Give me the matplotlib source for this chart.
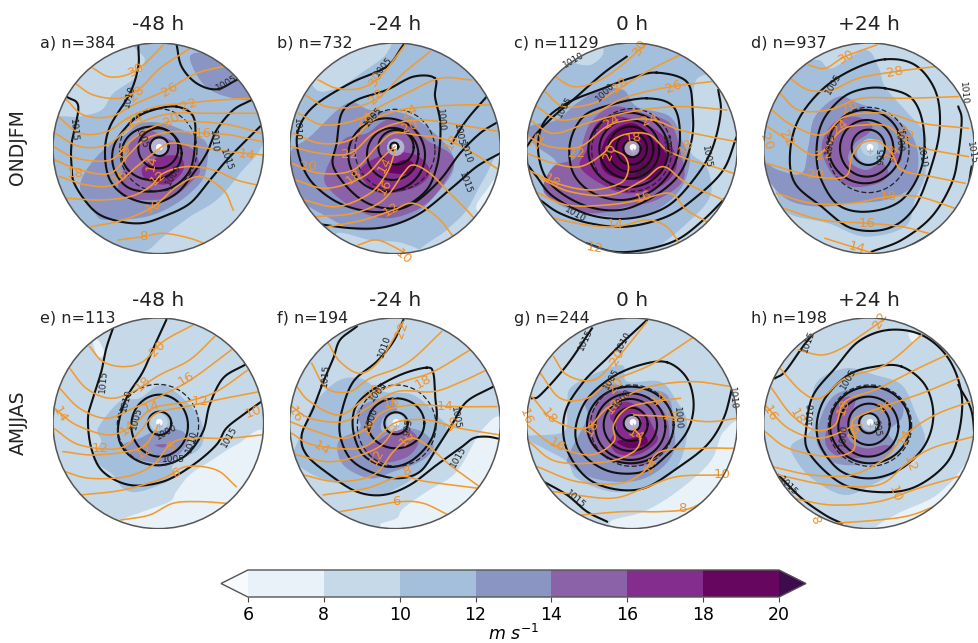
import matplotlib
matplotlib.use('Agg')
import matplotlib.pyplot as plt
import matplotlib as mpl
import numpy as np
from matplotlib.patches import Circle
from matplotlib.colors import ListedColormap, BoundaryNorm

# colour levels, m/s
levels = [6, 8, 10, 12, 14, 16, 18, 20]
level_colors = ['#e9f2f8', '#c6d9e9', '#a3bfdc', '#8b95c3', '#8b62a8', '#842d8f', '#67065f']
under_color = '#f7fbfd'
over_color = '#3f0b4f'
titles = ['-48 h', '-24 h', '0 h', '+24 h']
tags = ['a) n=384', 'b) n=732', 'c) n=1129', 'd) n=937', 'e) n=113', 'f) n=194', 'g) n=244', 'h) n=198']
seasons = ['ONDJFM', 'AMJJAS']

# everything below, x/y in the panel's own units (y down)
# circle centres of each panel
centre_x = [385, 375, 366, 372, 386, 375, 365, 372]

# ---- a
base_a = 8
wind_a = [
    (10, [(335, 90), (345, 150), (320, 200), (250, 250), (215, 300), (150, 320), (60, 340), (60, 540), (120, 650), (250, 700), (340, 725), (400, 680), (480, 620), (560, 570), (630, 490), (710, 370), (720, 90)]),
    (12, [(150, 530), (200, 440), (290, 370), (330, 340), (400, 340), (480, 370), (530, 400), (530, 470), (510, 520), (440, 580), (350, 620), (230, 630), (195, 610)]),
    (12, [(480, 140), (530, 130), (600, 170), (660, 260), (640, 270), (560, 250), (510, 210)]),
    (14, [(265, 520), (285, 470), (300, 400), (350, 360), (420, 390), (490, 420), (510, 480), (490, 510), (430, 560), (350, 570), (280, 560)]),
    (16, [(340, 470), (390, 440), (450, 440), (460, 480), (420, 520), (370, 520), (340, 500)]),
]
black_a = [
    [(440, 105), (455, 170), (500, 220), (560, 238), (620, 210)],
    [(110, 260), (145, 290), (125, 400), (125, 470), (135, 525), (190, 600), (250, 630), (330, 640), (400, 620), (480, 580), (540, 510), (600, 440), (690, 350)],
    [(325, 105), (325, 170), (300, 250), (240, 350), (225, 430), (240, 510), (290, 560), (370, 580), (440, 550), (490, 490), (530, 430), (560, 360), (610, 300), (665, 270)],
]
closed_a = [[(440, 290), (490, 320), (495, 400), (480, 480), (430, 530), (360, 545), (290, 530), (250, 470), (255, 400), (310, 330), (370, 300)]]
rings_a = [(365, 430, 90, 80), (385, 415, 60, 60), (388, 410, 28, 28)]
dash_a = (385, 420, 116, 124)
orange_a = [
    [(190, 175), (235, 200), (290, 195), (340, 165), (400, 105)],
    [(135, 220), (190, 255), (270, 265), (330, 235), (390, 175), (480, 115)],
    [(110, 270), (160, 315), (240, 320), (320, 280), (410, 240), (500, 190), (600, 165)],
    [(85, 320), (150, 370), (230, 365), (300, 320), (380, 290), (470, 280), (570, 270), (665, 265)],
    [(75, 370), (150, 410), (230, 405), (290, 360), (350, 330), (430, 310), (540, 310), (690, 310)],
    [(70, 410), (140, 445), (240, 450), (300, 395), (350, 360), (420, 335), (500, 335), (600, 345), (695, 370)],
    [(75, 450), (150, 480), (240, 490), (300, 430), (350, 385), (430, 365), (520, 370), (600, 375), (695, 395)],
    [(90, 500), (170, 525), (250, 525), (320, 470), (370, 430), (420, 400), (500, 410), (600, 425), (700, 435)],
    [(110, 565), (210, 570), (300, 560), (360, 530), (400, 490), (470, 470), (550, 480), (620, 510), (680, 525)],
    [(185, 650), (280, 630), (370, 590), (440, 530), (510, 500), (580, 540), (610, 600)],
    [(265, 690), (340, 680), (400, 670), (480, 685), (545, 710)],
]
olabel_a = [('30', 320, 180, 30), ('28', 320, 250, 45), ('26', 420, 240, 30), ('22', 475, 285, 20), ('20', 425, 330, 30), ('24', 315, 330, 30),
            ('16', 520, 370, 0), ('14', 650, 435, -10), ('10', 370, 590, 30), ('8', 340, 680, 0), ('18', 135, 490, 0), ('16', 270, 500, 40),
            ('18', 280, 425, 60), ('12', 385, 505, 40), ('14', 365, 460, 80)]
blabel_a = [('1010', 300, 260, 75), ('1015', 130, 360, -85), ('1005', 590, 220, 30), ('1010', 550, 395, -85), ('1015', 590, 450, -70), ('1000', 430, 495, 60), ('1005', 335, 385, -70)]

# ---- b
base_b = 10
wind_b = [
    (8, [(130, 230), (200, 235), (280, 185), (350, 130), (340, 80), (100, 80)]),
    (8, [(700, 430), (640, 510), (590, 600), (530, 660), (450, 735), (700, 740)]),
    (8, [(200, 670), (300, 690), (400, 700), (460, 740), (200, 740)]),
    (6, [(700, 490), (650, 540), (620, 600), (700, 640)]),
    (12, [(65, 420), (120, 380), (230, 280), (300, 300), (400, 310), (470, 350), (540, 420), (550, 480), (510, 540), (440, 610), (350, 650), (260, 660), (170, 620), (80, 560), (60, 480)]),
    (14, [(165, 490), (220, 390), (290, 370), (350, 330), (420, 340), (470, 390), (540, 430), (550, 470), (500, 550), (440, 600), (350, 625), (260, 600), (180, 540)]),
    (16, [(270, 480), (350, 430), (420, 430), (460, 450), (480, 490), (440, 530), (360, 550), (310, 540)]),
    (18, [(350, 480), (400, 450), (430, 460), (420, 490), (370, 490)]),
]
black_b = [
    [(400, 105), (350, 170), (240, 220), (130, 290), (85, 360), (85, 430), (120, 510), (190, 570), (270, 600), (350, 605), (430, 580), (510, 510), (570, 430), (630, 370), (685, 335)],
    [(650, 260), (590, 330), (545, 400)],
    [(130, 640), (250, 655), (350, 650), (450, 610), (550, 530), (620, 470), (690, 430)],
]
closed_b = [[(495, 205), (430, 200), (350, 240), (260, 270), (215, 310), (200, 400), (190, 470), (250, 550), (320, 590), (400, 590), (470, 540), (500, 470), (510, 400), (510, 330), (495, 260)]]
rings_b = [(350, 435, 115, 110), (368, 432, 77, 78), (378, 412, 53, 52), (373, 410, 12, 12)]
dash_b = (375, 420, 120, 122)
orange_b = [
    [(145, 210), (200, 235), (270, 235), (330, 200), (405, 105)],
    [(105, 255), (170, 290), (260, 290), (330, 260), (400, 190), (480, 125)],
    [(85, 310), (160, 345), (260, 330), (330, 290), (410, 250), (510, 205), (605, 210)],
    [(70, 370), (150, 400), (240, 390), (310, 330), (390, 300), (480, 290), (570, 285), (660, 285)],
    [(65, 410), (150, 430), (240, 430), (310, 370), (380, 340), (460, 330), (570, 345), (690, 365)],
    [(65, 460), (150, 490), (250, 480), (320, 410), (370, 370), (440, 375), (530, 390), (610, 430), (680, 475)],
    [(75, 510), (170, 535), (280, 500), (340, 440), (375, 410)],
    [(100, 570), (200, 590), (300, 550), (350, 490), (370, 440), (375, 420)],
    [(135, 620), (250, 610), (340, 570), (400, 490), (430, 465), (480, 490), (530, 540), (590, 600), (625, 640)],
    [(175, 650), (280, 630), (370, 600), (430, 580), (500, 620), (550, 680)],
    [(265, 705), (320, 690), (380, 715), (420, 740)],
]
olabel_b = [('30', 320, 205, 60), ('28', 320, 260, 45), ('24', 420, 305, 30), ('26', 285, 330, 30), ('20', 420, 350, 20), ('18', 545, 395, 60),
            ('20', 115, 470, 0), ('18', 250, 500, 40), ('12', 365, 600, 30), ('10', 400, 740, -40), ('22', 240, 435, 0), ('14', 345, 465, 60), ('16', 345, 530, 60)]
blabel_b = [('1010', 80, 360, -90), ('1005', 340, 170, 50), ('1000', 510, 330, -85), ('1005', 565, 375, -80), ('1010', 585, 430, -70), ('1015', 585, 520, -70), ('1005', 310, 320, 50)]

# ---- c
base_c = 10
wind_c = [
    (8, [(570, 200), (640, 200), (720, 300), (700, 500), (600, 680), (480, 730), (400, 750), (520, 650), (600, 560), (590, 470), (540, 420), (550, 300), (550, 240)]),
    (8, [(190, 150), (240, 165), (280, 130), (260, 90)]),
    (12, [(60, 350), (140, 330), (200, 280), (270, 240), (340, 240), (380, 290), (480, 320), (520, 400), (540, 450), (510, 540), (420, 610), (300, 620), (160, 590), (100, 530), (140, 460), (70, 400)]),
    (14, [(100, 540), (130, 470), (200, 440), (240, 340), (310, 290), (400, 310), (480, 340), (510, 420), (520, 510), (440, 570), (350, 590), (250, 610), (150, 580)]),
    (16, [(210, 470), (230, 420), (260, 340), (330, 320), (420, 350), (480, 400), (500, 470), (450, 530), (350, 550), (270, 520)]),
    (18, [(270, 440), (300, 370), (370, 340), (430, 390), (470, 440), (440, 500), (360, 510), (290, 490)]),
]
black_c = [
    [(350, 140), (280, 190), (200, 260), (130, 320), (80, 370), (50, 410)],
    [(90, 570), (150, 610), (240, 640), (350, 650), (470, 620), (560, 560), (640, 480), (680, 380)],
    [(230, 700), (310, 725), (400, 720), (500, 690), (580, 630), (650, 560)],
    [(625, 240), (632, 310), (605, 420), (550, 510), (470, 590), (360, 625), (240, 615), (130, 560), (80, 500), (50, 460)],
]
closed_c = [
    [(440, 188), (530, 215), (548, 300), (545, 390), (510, 490), (430, 560), (330, 600), (220, 585), (120, 520), (85, 430), (100, 340), (170, 280), (280, 235), (360, 205)],
    [(410, 265), (490, 290), (510, 380), (490, 470), (430, 540), (340, 570), (250, 550), (190, 490), (180, 400), (220, 320), (300, 285)],
]
rings_c = [(355, 420, 120, 112), (358, 418, 90, 88), (362, 418, 68, 68), (365, 416, 46, 48), (366, 416, 26, 26)]
dash_c = (365, 420, 120, 124)
orange_c = [
    [(135, 200), (190, 230), (260, 215), (330, 170), (410, 100)],
    [(105, 245), (160, 290), (250, 280), (320, 240), (420, 180), (510, 135)],
    [(80, 290), (150, 330), (250, 310), (340, 265), (430, 240), (520, 225), (605, 215)],
    [(60, 330), (130, 370), (230, 340), (340, 310), (430, 295), (530, 290), (650, 300)],
    [(55, 380), (120, 410), (210, 410), (290, 350), (360, 330), (430, 330), (510, 360), (600, 380), (680, 395)],
    [(50, 430), (130, 460), (210, 470), (280, 430), (310, 390), (360, 370), (420, 375), (470, 420), (540, 450), (610, 470), (670, 490)],
    [(55, 480), (140, 520), (240, 540), (330, 520), (355, 480), (345, 440), (310, 420)],
    [(90, 505), (180, 545), (300, 555), (400, 510), (460, 470), (530, 520), (640, 570)],
    [(75, 545), (170, 585), (290, 585), (390, 570), (480, 550), (530, 600), (600, 640)],
    [(130, 625), (230, 645), (320, 650), (410, 630), (470, 650), (505, 695)],
    [(225, 705), (260, 715), (290, 725)],
]
olabel_c = [('30', 390, 110, 60), ('28', 330, 225, 40), ('26', 490, 230, 20), ('24', 305, 335, 30), ('24', 420, 330, 20), ('22', 85, 390, 60), ('22', 200, 430, 0),
            ('20', 300, 425, 70), ('18', 370, 385, 10), ('18', 125, 515, -30), ('16', 400, 560, 20), ('14', 315, 645, 0), ('12', 255, 715, -10), ('18', 530, 410, 50)]
blabel_c = [('1010', 190, 150, 30), ('1005', 165, 290, 60), ('1000', 285, 245, 45), ('1010', 195, 615, -30), ('1005', 590, 440, -80), ('1000', 465, 410, -85), ('995', 400, 480, 60)]

# ---- d
base_d = 8
wind_d = [
    (10, [(220, 150), (260, 175), (360, 120), (400, 170), (420, 230), (480, 300), (540, 370), (540, 430), (540, 500), (510, 570), (480, 650), (360, 680), (250, 640), (130, 610), (90, 540), (50, 440), (50, 370), (100, 230), (150, 170)]),
    (12, [(60, 460), (100, 480), (170, 490), (190, 410), (210, 320), (280, 260), (340, 280), (420, 310), (490, 360), (520, 440), (500, 530), (420, 570), (320, 580), (220, 590), (130, 570), (70, 510)]),
    (14, [(230, 410), (265, 340), (330, 320), (380, 345), (370, 370), (330, 400), (310, 450), (360, 480), (410, 460), (430, 490), (400, 520), (320, 530), (260, 490)]),
    (14, [(440, 420), (470, 440), (460, 460), (435, 450)]),
    (10, [(335, 430), (360, 395), (400, 390), (425, 415), (400, 450), (360, 460)]),
]
black_d = [
    [(640, 290), (650, 330), (640, 430), (620, 520), (560, 620), (470, 690), (380, 725)],
    [(680, 470), (660, 560), (600, 640), (500, 705), (430, 730)],
]
closed_d = [
    [(420, 148), (510, 165), (570, 240), (585, 340), (565, 450), (510, 590), (430, 655), (320, 655), (230, 590), (150, 520), (135, 430), (160, 330), (230, 240), (320, 180)],
    [(420, 235), (500, 265), (535, 350), (530, 470), (470, 570), (370, 605), (280, 585), (225, 500), (215, 410), (235, 330), (290, 265), (350, 238)],
]
rings_d = [(360, 410, 110, 110), (365, 415, 80, 85), (370, 412, 50, 53)]
dash_d = (370, 420, 122, 128)
orange_d = [
    [(190, 165), (240, 175), (300, 140), (395, 105)],
    [(135, 205), (190, 240), (260, 240), (340, 205), (450, 185), (570, 170)],
    [(105, 250), (160, 300), (250, 300), (350, 265), (480, 265), (640, 260)],
    [(80, 300), (140, 345), (230, 375), (300, 320), (420, 310), (530, 340), (670, 355)],
    [(60, 345), (130, 390), (215, 435), (290, 360), (360, 345), (430, 350), (490, 400), (560, 420), (670, 440)],
    [(65, 460), (130, 480), (210, 500), (280, 505), (310, 490), (320, 440), (350, 400), (400, 395), (440, 430), (470, 480), (560, 500), (660, 520)],
    [(95, 550), (200, 580), (320, 580), (430, 560), (520, 560), (630, 595)],
    [(100, 590), (230, 630), (370, 640), (470, 650), (550, 670)],
    [(240, 685), (320, 710), (385, 730)],
]
olabel_d = [('30', 305, 140, 30), ('28', 450, 185, 10), ('26', 315, 290, 30), ('24', 285, 350, 40), ('22', 235, 435, 10), ('22', 125, 385, -60), ('20', 65, 395, -70),
            ('20', 210, 495, 0), ('22', 480, 370, -40), ('18', 440, 425, 60), ('18', 430, 560, 0), ('16', 365, 640, 0), ('14', 335, 715, -15)]
blabel_d = [('1005', 265, 220, 60), ('1010', 655, 250, -85), ('1015', 680, 430, -80), ('1010', 530, 440, -80), ('1000', 460, 395, -85), ('1005', 255, 400, 80), ('995', 410, 440, 85)]

# ---- e
base_e = 8
wind_e = [
    (6, [(710, 450), (620, 480), (540, 530), (480, 570), (440, 620), (420, 650), (340, 680), (270, 710), (300, 745), (710, 745)]),
    (6, [(190, 170), (205, 165), (225, 205), (205, 215)]),
    (10, [(205, 430), (270, 350), (330, 340), (400, 300), (490, 370), (520, 430), (510, 490), (430, 540), (430, 580), (330, 620), (280, 610), (250, 570), (190, 520), (215, 470)]),
    (12, [(280, 480), (330, 460), (370, 440), (400, 430), (460, 440), (470, 480), (420, 530), (350, 530), (300, 510)]),
    (14, [(375, 480), (410, 478), (400, 488)]),
]
black_e = [
    [(250, 130), (230, 190), (215, 260), (190, 340), (175, 400), (185, 490), (220, 560), (300, 600), (400, 590), (490, 540), (560, 480), (590, 430), (640, 390), (695, 350)],
    [(410, 105), (380, 170), (340, 260), (290, 340), (265, 430), (280, 490), (330, 530), (400, 540), (470, 510), (520, 440), (540, 360), (580, 280), (645, 240)],
]
closed_e = []
rings_e = [(390, 422, 85, 93), (390, 415, 35, 35)]
dash_e = (385, 420, 122, 122)
orange_e = [
    [(180, 185), (220, 230), (280, 245), (340, 230), (400, 170), (490, 120)],
    [(120, 250), (170, 310), (240, 340), (310, 320), (390, 270), (480, 225), (555, 155)],
    [(90, 310), (150, 370), (230, 400), (310, 370), (400, 330), (490, 280), (605, 195)],
    [(75, 370), (140, 420), (240, 450), (310, 420), (370, 370), (470, 350), (560, 320), (655, 255)],
    [(72, 430), (150, 480), (270, 490), (330, 440), (380, 385), (470, 365), (560, 345), (690, 320)],
    [(100, 500), (200, 510), (330, 490), (375, 440), (385, 420)],
    [(105, 560), (180, 580), (290, 575), (370, 540), (420, 480), (470, 460), (590, 460), (695, 450)],
    [(155, 630), (280, 615), (400, 580), (470, 545), (560, 555), (620, 605)],
    [(275, 705), (360, 690), (430, 655), (510, 650), (590, 655)],
]
olabel_e = [('20', 385, 190, 45), ('18', 340, 295, 45), ('16', 470, 280, 30), ('14', 365, 365, 20), ('12', 510, 350, 0), ('10', 670, 380, 20), ('14', 90, 390, -60),
            ('14', 295, 430, 40), ('12', 210, 490, 0), ('12', 345, 500, 30), ('8', 425, 485, 30), ('6', 440, 565, 20)]
blabel_e = [('1015', 220, 290, 85), ('1010', 290, 345, 75), ('1005', 320, 400, 75), ('1015', 600, 455, 60), ('1010', 485, 470, 75), ('1000', 410, 440, 30), ('1005', 430, 525, 0)]

# ---- f
base_f = 8
wind_f = [
    (6, [(700, 420), (640, 430), (560, 560), (470, 620), (400, 670), (380, 700), (330, 720), (400, 745), (700, 745)]),
    (10, [(100, 430), (130, 360), (200, 290), (270, 280), (340, 320), (430, 330), (500, 390), (530, 430), (500, 500), (440, 570), (380, 610), (320, 630), (220, 600), (130, 570), (60, 520), (70, 500)]),
    (12, [(205, 470), (270, 430), (260, 380), (300, 350), (360, 340), (380, 380), (340, 400), (340, 440), (420, 430), (470, 450), (490, 490), (450, 530), (370, 560), (300, 580), (220, 540)]),
    (14, [(280, 490), (320, 470), (370, 440), (420, 435), (445, 470), (420, 510), (370, 530), (320, 530)]),
]
black_f = [
    [(260, 125), (210, 165), (190, 220), (160, 290), (130, 370), (95, 450), (110, 510), (180, 570), (260, 620), (340, 630), (420, 600), (500, 540), (570, 490), (610, 460), (650, 455), (690, 462)],
    [(400, 105), (370, 170), (320, 230), (250, 290), (215, 380), (210, 450), (240, 520), (300, 560), (380, 580), (450, 560), (500, 490), (545, 420), (590, 350), (670, 305)],
]
closed_f = [[(470, 248), (490, 265), (495, 330), (500, 400), (480, 470), (420, 530), (350, 545), (280, 510), (250, 440), (255, 370), (300, 320), (390, 270)]]
rings_f = [(378, 415, 85, 75), (378, 415, 35, 33)]
dash_f = (380, 422, 118, 122)
orange_f = [
    [(175, 175), (210, 230), (270, 265), (330, 225), (400, 110)],
    [(125, 235), (170, 310), (240, 320), (300, 280), (410, 235), (515, 140)],
    [(80, 305), (120, 350), (210, 390), (300, 330), (400, 290), (490, 260), (600, 195)],
    [(60, 360), (120, 400), (220, 410), (290, 370), (380, 320), (490, 320), (575, 290), (660, 250)],
    [(60, 410), (140, 440), (220, 460), (290, 430), (340, 380), (430, 360), (550, 365), (680, 365)],
    [(65, 445), (130, 480), (270, 490), (340, 440), (385, 410), (470, 405), (570, 430), (690, 450)],
    [(80, 510), (190, 530), (320, 490), (375, 430)],
    [(100, 570), (200, 590), (310, 570), (370, 500), (420, 460), (470, 480), (540, 540), (635, 610)],
    [(160, 630), (290, 610), (390, 575), (470, 590), (625, 610)],
    [(210, 680), (300, 665), (390, 650), (460, 655), (535, 690)],
]
olabel_f = [('22', 395, 135, 70), ('20', 310, 320, 40), ('18', 460, 290, 30), ('16', 365, 355, 10), ('16', 75, 390, -60), ('14', 525, 365, 0), ('14', 155, 490, -30),
            ('12', 320, 515, 60), ('16', 295, 425, 60), ('10', 410, 460, 45), ('8', 410, 560, 20), ('6', 380, 650, 0), ('10', 545, 415, 45)]
blabel_f = [('1015', 165, 270, 85), ('1010', 345, 185, 70), ('1005', 325, 320, 50), ('1000', 305, 400, 70), ('1005', 555, 400, -80), ('1015', 565, 515, 60), ('995', 415, 425, 80)]

# ---- g
base_g = 8
wind_g = [
    (6, [(700, 430), (640, 440), (600, 530), (500, 620), (400, 680), (300, 710), (360, 745), (700, 745)]),
    (10, [(45, 455), (160, 440), (170, 360), (190, 300), (330, 240), (350, 290), (450, 290), (500, 350), (530, 410), (520, 500), (480, 570), (390, 610), (300, 620), (200, 580), (170, 530), (100, 490)]),
    (12, [(175, 510), (230, 400), (225, 350), (280, 300), (380, 310), (470, 330), (490, 420), (490, 500), (440, 560), (360, 590), (250, 580), (180, 540)]),
    (14, [(235, 400), (280, 330), (350, 320), (420, 340), (470, 400), (470, 490), (400, 540), (320, 530), (260, 500), (230, 450)]),
    (16, [(300, 470), (320, 430), (300, 400), (310, 370), (350, 350), (400, 380), (430, 430), (440, 470), (380, 510), (320, 505)]),
    (18, [(320, 470), (365, 460), (400, 450), (410, 475), (360, 490)]),
]
black_g = [
    [(245, 130), (170, 240), (90, 330), (65, 340)],
    [(410, 105), (350, 160), (290, 220), (220, 290), (165, 380), (165, 480), (220, 570), (300, 610), (400, 610), (500, 550), (590, 480), (640, 400), (665, 310)],
    [(100, 590), (170, 630), (230, 680), (290, 710)],
]
closed_g = [[(470, 232), (530, 280), (550, 360), (530, 440), (470, 510), (400, 560), (300, 560), (220, 510), (195, 440), (225, 350), (300, 280), (390, 240)]]
rings_g = [(360, 420, 130, 115), (360, 425, 105, 100), (360, 420, 80, 78), (362, 418, 50, 50), (365, 415, 25, 25)]
dash_g = (365, 422, 125, 122)
orange_g = [
    [(130, 215), (170, 270), (250, 285), (320, 220), (410, 110)],
    [(90, 265), (150, 340), (230, 340), (300, 290), (420, 240), (545, 160)],
    [(65, 335), (130, 405), (225, 430), (290, 370), (400, 310), (540, 290), (665, 305)],
    [(50, 420), (130, 480), (240, 510), (310, 470), (310, 420), (350, 370), (430, 350), (510, 340)],
    [(55, 470), (140, 530), (290, 530), (370, 500), (390, 460), (370, 430)],
    [(370, 390), (470, 395), (590, 410), (680, 400)],
    [(80, 545), (200, 590), (330, 595), (400, 560), (450, 500), (580, 490), (670, 490)],
    [(130, 620), (300, 640), (400, 610), (500, 575), (640, 570)],
    [(215, 690), (340, 680), (450, 680), (540, 670), (620, 625)],
]
olabel_g = [('20', 320, 215, 60), ('20', 315, 300, 50), ('18', 115, 395, -50), ('16', 45, 395, -70), ('16', 140, 480, -30), ('18', 245, 430, 60), ('18', 310, 365, 50),
            ('14', 445, 340, 30), ('14', 375, 450, -30), ('14', 420, 540, 60), ('10', 635, 570, 0), ('8', 515, 670, 0), ('12', 480, 395, -10)]
blabel_g = [('1015', 225, 165, 65), ('1010', 340, 170, 60), ('1005', 305, 280, 60), ('1000', 335, 340, 50), ('1010', 665, 340, -85), ('1000', 500, 400, -85), ('1015', 195, 645, -40)]

# ---- h
base_h = 8
wind_h = [
    (6, [(700, 510), (620, 590), (560, 640), (470, 680), (400, 720), (400, 745), (700, 745)]),
    (6, [(490, 145), (520, 150), (505, 175)]),
    (10, [(140, 480), (200, 430), (210, 300), (300, 250), (390, 270), (470, 300), (510, 380), (540, 470), (490, 540), (400, 590), (300, 630), (200, 580), (150, 520)]),
    (12, [(215, 470), (230, 390), (270, 330), (340, 310), (420, 310), (470, 350), (470, 400), (430, 440), (450, 480), (420, 520), (340, 540), (260, 530)]),
    (14, [(240, 460), (280, 350), (330, 340), (320, 390), (310, 460), (360, 490), (420, 480), (440, 490), (400, 510), (330, 520), (270, 510)]),
]
black_h = [
    [(205, 145), (170, 190), (120, 260), (90, 280)],
    [(640, 300), (680, 380), (690, 500)],
    [(100, 570), (170, 640), (240, 690), (290, 715)],
]
closed_h = [
    [(430, 135), (530, 150), (610, 220), (650, 330), (640, 450), (600, 540), (500, 610), (380, 620), (280, 590), (190, 500), (185, 420), (205, 330), (270, 250), (340, 170)],
    [(470, 245), (540, 300), (565, 390), (540, 480), (470, 550), (380, 580), (290, 560), (230, 490), (215, 420), (240, 340), (310, 270), (390, 245)],
]
rings_h = [(375, 420, 120, 115), (370, 425, 90, 90), (372, 418, 62, 62), (372, 415, 30, 30)]
dash_h = (375, 422, 125, 122)
orange_h = [
    [(160, 195), (230, 210), (290, 190), (350, 150), (415, 105)],
    [(105, 250), (170, 320), (225, 340), (300, 280), (420, 240), (530, 150)],
    [(80, 310), (140, 390), (210, 435), (270, 420), (300, 350), (400, 310), (520, 250), (605, 210)],
    [(60, 360), (130, 430), (220, 460), (310, 430), (330, 400), (400, 370), (530, 325), (640, 280)],
    [(60, 440), (130, 490), (250, 515), (320, 500), (330, 460), (320, 425), (350, 420)],
    [(80, 545), (200, 570), (320, 570), (420, 520), (480, 450), (570, 390), (675, 350)],
    [(100, 570), (250, 600), (400, 600), (480, 540), (560, 490), (685, 455)],
    [(145, 640), (260, 660), (400, 650), (520, 610), (640, 575)],
    [(270, 715), (400, 705), (500, 690), (600, 650)],
]
olabel_h = [('22', 405, 105, 60), ('18', 155, 395, -60), ('16', 75, 385, -60), ('18', 295, 365, 70), ('16', 420, 365, 20), ('14', 330, 440, 60), ('14', 480, 455, 60),
            ('12', 495, 535, -70), ('10', 450, 625, -70), ('8', 210, 705, -70)]
blabel_h = [('1015', 190, 170, 70), ('1010', 195, 385, 85), ('1005', 310, 280, 60), ('1000', 295, 450, 85), ('995', 395, 430, -80), ('1015', 130, 605, -45)]

panels = [
    (base_a, wind_a, black_a, closed_a, rings_a, dash_a, orange_a, olabel_a, blabel_a),
    (base_b, wind_b, black_b, closed_b, rings_b, dash_b, orange_b, olabel_b, blabel_b),
    (base_c, wind_c, black_c, closed_c, rings_c, dash_c, orange_c, olabel_c, blabel_c),
    (base_d, wind_d, black_d, closed_d, rings_d, dash_d, orange_d, olabel_d, blabel_d),
    (base_e, wind_e, black_e, closed_e, rings_e, dash_e, orange_e, olabel_e, blabel_e),
    (base_f, wind_f, black_f, closed_f, rings_f, dash_f, orange_f, olabel_f, blabel_f),
    (base_g, wind_g, black_g, closed_g, rings_g, dash_g, orange_g, olabel_g, blabel_g),
    (base_h, wind_h, black_h, closed_h, rings_h, dash_h, orange_h, olabel_h, blabel_h),
]

W, H = 979, 643
R = 316
orange = '#f39c2d'


def smooth(pts, closed=False, n=12):
    # catmull-rom through the read points so the outlines are not angular
    p = np.array(pts, dtype=float)
    if closed:
        p = np.vstack([p[-1], p, p[0], p[1]])
    else:
        p = np.vstack([2 * p[0] - p[1], p, 2 * p[-1] - p[-2]])
    out = []
    t = np.linspace(0, 1, n, endpoint=False)[:, None]
    for i in range(1, len(p) - 2):
        a, b, c, d = p[i - 1], p[i], p[i + 1], p[i + 2]
        out.append(0.5 * (2 * b + (c - a) * t + (2 * a - 5 * b + 4 * c - d) * t ** 2 + (3 * b - a - 3 * c + d) * t ** 3))
    out = np.vstack(out)
    if closed:
        out = np.vstack([out, out[0]])
    else:
        out = np.vstack([out, p[-2]])
    return out[:, 0], out[:, 1]


def ellipse(ring):
    cx, cy, rx, ry = ring
    t = np.linspace(0, 2 * np.pi, 90)
    return cx + rx * np.cos(t), cy + ry * np.sin(t)


fig = plt.figure(figsize=(W / 100, H / 100), dpi=100)
col_px = [158.3, 395, 632, 869]
row_px = [148.3, 423.3]
r_px = R / 3

for i, p in enumerate(panels):
    base, wind, black, closed, rings, dash, orn, olab, blab = p
    px = col_px[i % 4]
    py = row_px[i // 4]
    ax = fig.add_axes([(px - r_px) / W, 1 - (py + r_px) / H, 2 * r_px / W, 2 * r_px / H])
    cx = centre_x[i]
    ax.set_xlim(cx - R, cx + R)
    ax.set_ylim(415 + R, 415 - R)
    ax.axis('off')
    clip = Circle((cx, 415), R, transform=ax.transData)

    bg = ax.add_patch(Circle((cx, 415), R, fc=level_colors[levels.index(base)], ec='none', zorder=1))
    for lev, pts in wind:
        x, y = smooth(pts, closed=True)
        f = ax.fill(x, y, color=level_colors[levels.index(lev)], lw=0, zorder=2)[0]
        f.set_clip_path(clip)
    ax.add_patch(Circle((cx + 2, 412), 26, fc=level_colors[1], ec='none', zorder=3, alpha=0.7))
    ax.add_patch(Circle((cx + 3, 412), 10, fc='white', ec='none', zorder=3))

    for pts in black:
        x, y = smooth(pts)
        ax.plot(x, y, color='#111111', lw=1.5, zorder=4, clip_path=clip)
    for pts in closed:
        x, y = smooth(pts, closed=True)
        ax.plot(x, y, color='#111111', lw=1.5, zorder=4, clip_path=clip)
    for ring in rings:
        x, y = ellipse(ring)
        ax.plot(x, y, color='#111111', lw=1.5, zorder=4, clip_path=clip)
    x, y = ellipse(dash)
    ax.plot(x, y, color='#222222', lw=0.9, ls=(0, (4, 2)), zorder=4)

    for pts in orn:
        x, y = smooth(pts)
        ax.plot(x, y, color=orange, lw=1.15, zorder=5, clip_path=clip)
    for txt, x, y, rot in olab:
        ax.text(x, y, txt, color='#f0932b', fontsize=9.5, rotation=rot, ha='center', va='center', zorder=6, clip_on=False)
    for txt, x, y, rot in blab:
        ax.text(x, y, txt, color='#222222', fontsize=6.5, rotation=rot, ha='center', va='center', zorder=6, clip_on=False)
    ax.plot([cx + 3], [422], marker='+', color='#aab4c4', ms=5, mew=1, zorder=7)
    ax.add_patch(Circle((cx, 415), R, fc='none', ec='#555555', lw=1.1, zorder=8))

    if i < 4:
        fig.text(px / W, 1 - 25 / H, titles[i], fontsize=14.5, ha='center', va='center', color='#222222')
    else:
        fig.text(px / W, 1 - 300 / H, titles[i - 4], fontsize=14.5, ha='center', va='center', color='#222222')
    fig.text((px - 118) / W, 1 - (py - 105) / H, tags[i], fontsize=11.5, ha='left', va='center', color='#222222')

fig.text(18 / W, 1 - 147 / H, seasons[0], rotation=90, fontsize=13.5, ha='center', va='center', color='#222222')
fig.text(18 / W, 1 - 423 / H, seasons[1], rotation=90, fontsize=13.5, ha='center', va='center', color='#222222')

# axes runs tip to tip, the colorbar shrinks itself for the triangles
cax = fig.add_axes([221 / W, 1 - 597 / H, 585 / W, 27 / H])
cmap = ListedColormap(level_colors)
cmap.set_under(under_color)
cmap.set_over(over_color)
norm = BoundaryNorm(levels, cmap.N)
cb = mpl.colorbar.ColorbarBase(cax, cmap=cmap, norm=norm, orientation='horizontal', extend='both',
                               extendfrac=0.0507, ticks=levels, spacing='uniform')
cb.ax.tick_params(labelsize=12.5, length=3.5, width=0.8, color='#444444', pad=3)
cb.outline.set_edgecolor('#555555')
cb.outline.set_linewidth(1)
fig.text(514 / W, 1 - 634 / H, r'$m\ s^{-1}$', fontsize=12.5, ha='center', va='center')

plt.savefig('out.png', dpi=100)
